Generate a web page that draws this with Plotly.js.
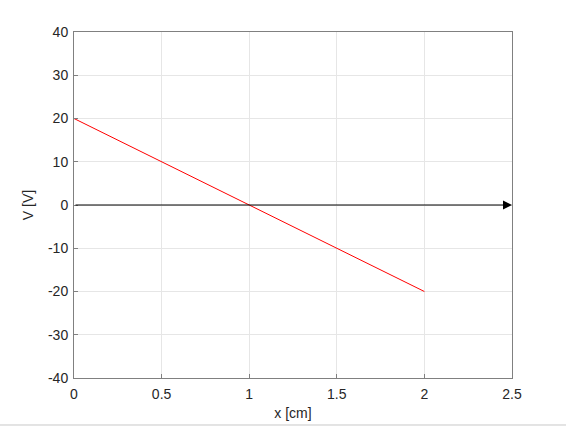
<!DOCTYPE html>
<html>
<head>
<meta charset="utf-8">
<script src="https://cdn.plot.ly/plotly-3.0.1.min.js"></script>
<style>
html,body{margin:0;padding:0;background:#fff;}
#chart{width:566px;height:426px;}
</style>
</head>
<body>
<div id="chart"></div>
<script>
// Data
const lineX = [0, 2];
const lineV = [20, -20];
const arrowStart = [0, 0];
const arrowEnd = [2.5, 0];
const xTicks = [0, 0.5, 1, 1.5, 2, 2.5];
const yTicks = [-40, -30, -20, -10, 0, 10, 20, 30, 40];

const font = {family: 'Liberation Sans, Arial, sans-serif', size: 14, color: '#262626'};

const traces = [{
  x: lineX, y: lineV, type: 'scatter', mode: 'lines',
  line: {color: '#ff0000', width: 1}, hoverinfo: 'skip', showlegend: false
}];

const axisCommon = {
  showgrid: true, gridcolor: '#e6e6e6', gridwidth: 1,
  zeroline: false, showline: true, linecolor: '#808080', linewidth: 1,
  mirror: true, ticks: 'inside', ticklen: 4, tickcolor: '#808080',
  tickfont: font
};

const layout = {
  width: 566, height: 426,
  margin: {l: 73.5, r: 54, t: 32, b: 48},
  paper_bgcolor: '#ffffff', plot_bgcolor: '#ffffff',
  font: font,
  showlegend: false,
  xaxis: Object.assign({}, axisCommon, {
    range: [0, 2.5], tickvals: xTicks, ticktext: xTicks.map(String),
    ticklabelstandoff: 3,
    title: {text: 'x [cm]', font: font, standoff: 7}
  }),
  yaxis: Object.assign({}, axisCommon, {
    range: [-40, 40], tickvals: yTicks, ticktext: yTicks.map(String),
    ticklabelstandoff: 2,
    title: {text: 'V [V]', font: font, standoff: 11}
  }),
  annotations: [{
    x: arrowEnd[0], y: arrowEnd[1], ax: arrowStart[0], ay: arrowStart[1],
    xref: 'x', yref: 'y', axref: 'x', ayref: 'y',
    showarrow: true, arrowhead: 2, arrowsize: 1.8, arrowwidth: 1,
    arrowcolor: '#000000', text: ''
  }],
  shapes: [{
    type: 'line', xref: 'paper', yref: 'paper',
    x0: -0.17, x1: 1.13, y0: -0.1358, y1: -0.1358,
    line: {color: '#c8c8c8', width: 1}
  }]
};

Plotly.newPlot('chart', traces, layout, {displayModeBar: false, staticPlot: true});
</script>
</body>
</html>
